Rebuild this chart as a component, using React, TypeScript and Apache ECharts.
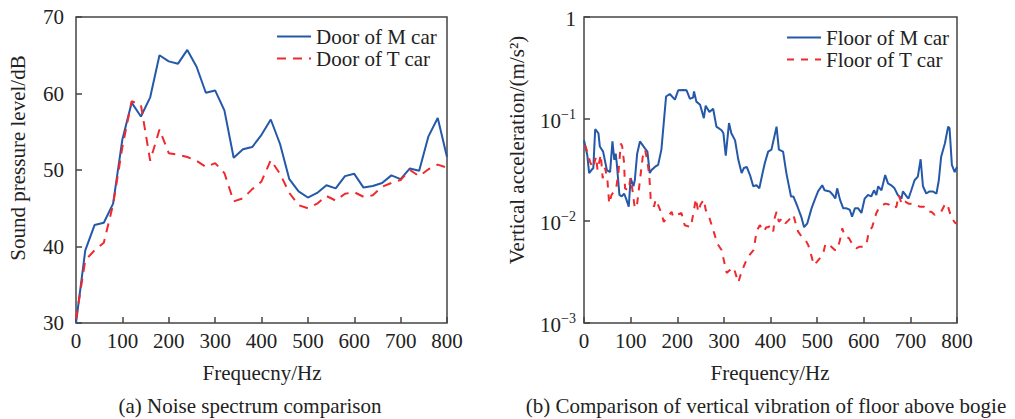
import React, { useEffect, useRef } from "react";
import * as echarts from "echarts";

// ---- Left chart: noise spectrum (dB) ----
const noiseFreq = [0, 20, 40, 60, 80, 100, 120, 140, 160, 180, 200, 220, 240, 260, 280, 300, 320, 340, 360, 380, 400, 420, 440, 460, 480, 500, 520, 540, 560, 580, 600, 620, 640, 660, 680, 700, 720, 740, 760, 780, 800];
const doorM = [30, 39.5, 42.8, 43.1, 45.6, 54, 58.8, 57, 59.5, 65, 64.2, 63.9, 65.7, 63.5, 60.1, 60.4, 57.8, 51.6, 52.7, 53, 54.6, 56.6, 53.4, 48.8, 47.2, 46.4, 47, 48, 47.6, 49.2, 49.5, 47.7, 47.9, 48.3, 49.3, 48.8, 50.2, 49.9, 54.4, 56.8, 51.7];
const doorT = [30.5, 38.2, 39.5, 40.5, 45.5, 53, 59, 58.5, 51.2, 55.3, 52.2, 52, 51.7, 51.2, 50.4, 50.9, 49.6, 45.9, 46.3, 47.5, 48.5, 51.3, 49.5, 47, 45.4, 45, 45.6, 46.6, 46, 46.9, 47.1, 46.5, 46.7, 47.8, 48.3, 48.7, 50, 49.2, 50.1, 50.7, 50.3];
const noiseXTicks = [0, 100, 200, 300, 400, 500, 600, 700, 800];
const noiseYTicks = [30, 40, 50, 60, 70];

// ---- Right chart: vertical vibration (m/s^2) ----
const floorMFreq = [0, 7, 11, 16, 20, 24, 31, 34, 41, 49, 56, 61, 65, 68, 70, 76, 81, 86, 91, 96, 100, 106, 109, 114, 120, 131, 136, 141, 145, 152, 159, 166, 176, 184, 195, 202, 213, 220, 227, 234, 236, 241, 249, 257, 261, 269, 277, 284, 295, 299, 304, 311, 316, 324, 331, 338, 343, 349, 356, 363, 370, 376, 383, 388, 395, 402, 413, 418, 427, 434, 444, 449, 458, 466, 472, 479, 488, 495, 502, 511, 516, 527, 534, 539, 543, 549, 556, 563, 570, 575, 581, 588, 595, 602, 609, 616, 622, 627, 631, 638, 646, 652, 659, 666, 673, 681, 684, 692, 696, 702, 709, 716, 722, 727, 734, 741, 748, 756, 761, 766, 774, 781, 784, 789, 795, 800];
const floorM = [0.062, 0.0444, 0.0295, 0.0316, 0.0331, 0.0794, 0.0724, 0.0537, 0.0479, 0.0316, 0.0302, 0.0603, 0.0398, 0.0457, 0.038, 0.018, 0.0174, 0.0186, 0.0162, 0.0138, 0.0263, 0.0219, 0.0251, 0.0457, 0.0603, 0.0513, 0.0479, 0.0295, 0.0316, 0.0339, 0.0355, 0.0501, 0.166, 0.176, 0.155, 0.191, 0.192, 0.191, 0.158, 0.162, 0.186, 0.148, 0.138, 0.102, 0.135, 0.117, 0.126, 0.0841, 0.0776, 0.0724, 0.0437, 0.0912, 0.0724, 0.0617, 0.0398, 0.0295, 0.0331, 0.0339, 0.0282, 0.0219, 0.0224, 0.0209, 0.0295, 0.0372, 0.0479, 0.0501, 0.0841, 0.0501, 0.0479, 0.0295, 0.0174, 0.0174, 0.0138, 0.011, 0.0087, 0.0095, 0.0133, 0.0162, 0.0195, 0.0224, 0.02, 0.0195, 0.018, 0.0166, 0.0209, 0.0162, 0.0133, 0.0133, 0.0129, 0.011, 0.0133, 0.0133, 0.012, 0.0166, 0.018, 0.0174, 0.02, 0.018, 0.0219, 0.02, 0.0282, 0.0234, 0.0224, 0.0209, 0.018, 0.0166, 0.0195, 0.0174, 0.0166, 0.02, 0.0251, 0.0272, 0.0403, 0.0219, 0.0186, 0.0195, 0.0195, 0.0186, 0.0251, 0.0427, 0.0575, 0.0841, 0.0813, 0.0355, 0.0302, 0.0339];
const floorTFreq = [2, 7, 13, 19, 26, 29, 36, 40, 45, 50, 54, 59, 69, 74, 79, 82, 86, 88, 95, 100, 104, 109, 114, 120, 126, 131, 136, 140, 143, 150, 154, 166, 171, 188, 191, 209, 216, 229, 234, 240, 245, 250, 257, 261, 269, 276, 286, 295, 306, 313, 321, 331, 338, 349, 356, 364, 370, 377, 386, 391, 395, 401, 406, 409, 413, 418, 425, 432, 439, 449, 456, 459, 466, 475, 481, 488, 493, 500, 509, 513, 518, 527, 538, 543, 549, 554, 559, 568, 575, 584, 591, 601, 606, 611, 618, 627, 634, 646, 654, 663, 670, 675, 682, 689, 696, 706, 713, 720, 729, 738, 745, 752, 759, 766, 774, 779, 788, 797, 800];
const floorT = [0.0556, 0.0479, 0.038, 0.0331, 0.0427, 0.0316, 0.0447, 0.0263, 0.0331, 0.0263, 0.0148, 0.018, 0.0209, 0.0302, 0.0575, 0.0537, 0.0372, 0.0209, 0.02, 0.0263, 0.02, 0.0133, 0.0148, 0.0251, 0.0427, 0.0501, 0.038, 0.0282, 0.0166, 0.0138, 0.0162, 0.012, 0.0098, 0.0123, 0.011, 0.012, 0.0091, 0.0087, 0.0115, 0.0166, 0.0123, 0.0145, 0.0162, 0.0129, 0.0107, 0.0085, 0.006, 0.0052, 0.0031, 0.0033, 0.0035, 0.0025, 0.0032, 0.0042, 0.0047, 0.0052, 0.0079, 0.0091, 0.0079, 0.0087, 0.0087, 0.0091, 0.0079, 0.0107, 0.0123, 0.0098, 0.0107, 0.0095, 0.0102, 0.0115, 0.0087, 0.0079, 0.0071, 0.0065, 0.0058, 0.0045, 0.0037, 0.004, 0.0045, 0.0048, 0.006, 0.0058, 0.0052, 0.0052, 0.0065, 0.0085, 0.0071, 0.0068, 0.006, 0.0054, 0.0056, 0.0056, 0.006, 0.0079, 0.0087, 0.012, 0.0138, 0.0148, 0.0145, 0.0133, 0.0138, 0.018, 0.0145, 0.0155, 0.0148, 0.0148, 0.0145, 0.0138, 0.0138, 0.0123, 0.0123, 0.0115, 0.012, 0.0123, 0.0145, 0.0148, 0.0107, 0.0095, 0.0095];

const FONT = '"Liberation Serif", "Times New Roman", serif';
const FS = 21;
const BLUE = "#2458a8";
const RED = "#ee2a2e";
const AXIS = "#444";
const TXT = "#222";

const pairs = (xs: number[], ys: number[]) => xs.map((x, i) => [x, ys[i]]);

export default function App() {
  const ref = useRef<HTMLDivElement>(null);
  useEffect(() => {
    if (!ref.current) return;
    const chart = echarts.init(ref.current, null, { renderer: "svg" });
    const xAxisBase = {
      type: "value" as const,
      min: noiseXTicks[0],
      max: noiseXTicks[noiseXTicks.length - 1],
      interval: 100,
      axisLine: { show: false },
      axisTick: { show: true, inside: true, length: 6, lineStyle: { color: AXIS, width: 1.5 } },
      axisLabel: { color: TXT, fontFamily: FONT, fontSize: FS, margin: 7, showMinLabel: true, showMaxLabel: true },
      splitLine: { show: false },
    };
    const legendBase = {
      orient: "vertical" as const,
      padding: 0,
      itemWidth: 34,
      itemHeight: 12,
      itemGap: 1,
      itemTextGap: 5,
      itemStyle: { opacity: 0 },
      textStyle: { fontFamily: FONT, fontSize: FS, color: TXT },
    };
    const title = (text: string, x: number, y: number, vertical = false) => ({
      type: "text",
      x,
      y,
      rotation: vertical ? Math.PI / 2 : 0,
      style: { text, fontFamily: FONT, fontSize: FS, fill: TXT, align: "center", verticalAlign: "middle" },
    });
    const option = {
      animation: false,
      grid: [
        { left: 76, top: 17, width: 371, height: 306, show: true, borderColor: AXIS, borderWidth: 1.5, containLabel: false },
        { left: 584, top: 17, width: 373, height: 306, show: true, borderColor: AXIS, borderWidth: 1.5, containLabel: false },
      ],
      xAxis: [
        { ...xAxisBase, gridIndex: 0 },
        { ...xAxisBase, gridIndex: 1 },
      ],
      yAxis: [
        {
          type: "value",
          gridIndex: 0,
          min: noiseYTicks[0],
          max: noiseYTicks[noiseYTicks.length - 1],
          interval: 10,
          axisLine: { show: false },
          axisTick: { show: true, inside: true, length: 6, lineStyle: { color: AXIS, width: 1.5 } },
          axisLabel: { color: TXT, fontFamily: FONT, fontSize: FS, margin: 12 },
          splitLine: { show: false },
        },
        {
          type: "log",
          gridIndex: 1,
          logBase: 10,
          min: 0.001,
          max: 1,
          axisLine: { show: false },
          axisTick: { show: true, inside: true, length: 6, lineStyle: { color: AXIS, width: 1.5 } },
          minorTick: { show: false },
          axisLabel: {
            color: TXT,
            fontFamily: FONT,
            fontSize: FS,
            margin: 8,
            formatter: (v: number) => {
              const e = Math.round(Math.log10(v));
              if (e === 0) return "{b|1}";
              return "{b|10}{s|−" + Math.abs(e) + "}";
            },
            rich: {
              b: { fontFamily: FONT, fontSize: FS, color: TXT, lineHeight: 24, verticalAlign: "bottom" },
              s: { fontFamily: FONT, fontSize: 14, color: TXT, lineHeight: 24, verticalAlign: "top", padding: [0, 0, 9, 0] },
            },
          },
          splitLine: { show: false },
        },
      ],
      legend: [
        { ...legendBase, data: ["Door of M car", "Door of T car"], left: 276, top: 26 },
        { ...legendBase, data: ["Floor of M car", "Floor of T car"], left: 786, top: 27 },
      ],
      series: [
        {
          name: "Door of M car",
          type: "line",
          xAxisIndex: 0,
          yAxisIndex: 0,
          data: pairs(noiseFreq, doorM),
          symbol: "none",
          lineStyle: { color: BLUE, width: 2 },
          itemStyle: { color: BLUE },
        },
        {
          name: "Door of T car",
          type: "line",
          xAxisIndex: 0,
          yAxisIndex: 0,
          data: pairs(noiseFreq, doorT),
          symbol: "none",
          lineStyle: { color: RED, width: 2, type: [9, 7] },
          itemStyle: { color: RED },
        },
        {
          name: "Floor of M car",
          type: "line",
          xAxisIndex: 1,
          yAxisIndex: 1,
          data: pairs(floorMFreq, floorM),
          symbol: "none",
          lineStyle: { color: BLUE, width: 2 },
          itemStyle: { color: BLUE },
        },
        {
          name: "Floor of T car",
          type: "line",
          xAxisIndex: 1,
          yAxisIndex: 1,
          data: pairs(floorTFreq, floorT),
          symbol: "none",
          lineStyle: { color: RED, width: 2, type: [7, 7] },
          itemStyle: { color: RED },
        },
      ],
      graphic: [
        title("Sound pressure level/dB", 18, 158, true),
        title("Frequecny/Hz", 262, 373),
        title("(a) Noise spectrum comparison", 250, 406),
        title("Vertical acceleration/(m/s²)", 517, 150, true),
        title("Frequency/Hz", 770, 373),
        title("(b) Comparison of vertical vibration of floor above bogie", 766, 406),
      ],
    };
    chart.setOption(option as any);
    return () => chart.dispose();
  }, []);
  return (
    <div
      ref={ref}
      style={{ position: "fixed", left: 0, top: 0, width: 1015, height: 419, background: "#fff" }}
    />
  );
}
